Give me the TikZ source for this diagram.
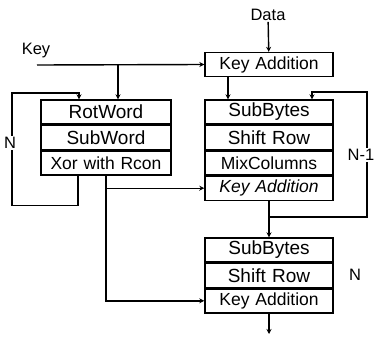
\documentclass[tikz,border=0pt]{standalone}
\usepackage{fontspec}
\setmainfont{Liberation Sans}
\usepackage{tikz}
\usetikzlibrary{positioning,arrows.meta}
\tikzset{
  row/.style={draw=black, line width=1.4pt, align=center, minimum height=24pt, text width=#1, inner sep=0pt, font=\fontsize{19}{20}\selectfont},
  row/.default={128pt},
  smallrow/.style={row=#1, font=\fontsize{17.5}{18}\selectfont},
  smallrow/.default={128pt},
  arrow/.style={-{Stealth[length=5pt,width=5pt]}, line width=1.4pt, draw=black},
  lbl/.style={font=\fontsize{16.5}{17}\selectfont, inner sep=1pt},
  looplbl/.style={lbl, fill=white, inner sep=1.5pt}
}
\begin{document}
\begin{tikzpicture}[x=1pt, y=-1pt, node distance=0pt]
  \useasboundingbox (0,0) rectangle (377,337);
  % inputs
  \node[lbl] (data) at (268,15) {Data};
  \node[lbl] (key) at (36,51) {Key};
  \node[smallrow] (ka0) at (269,64.5) {Key Addition};
  % key schedule
  \node[row=130pt] (rot) at (106,112) {RotWord};
  \node[row=130pt, below=of rot] (subw) {SubWord};
  \node[smallrow=130pt, below=of subw] (xor) {Xor with Rcon};
  % rounds
  \node[row] (sb1) at (269,112) {SubBytes};
  \node[row, below=of sb1] (sr1) {Shift Row};
  \node[smallrow, below=of sr1] (mc1) {MixColumns};
  \node[smallrow, below=of mc1, font=\fontsize{17.5}{18}\selectfont\itshape] (ka1) {Key Addition};
  % final round
  \node[row] (sb2) at (269,250) {SubBytes};
  \node[row, below=of sb2] (sr2) {Shift Row};
  \node[smallrow, below=of sr2] (ka2) {Key Addition};
  \coordinate (keyin) at (37,65);
  \coordinate (kbr) at (118,65);
  \coordinate (out) at (269,334);
  % connectors
  \draw[arrow] (data) -- (ka0);
  \draw[arrow] (keyin) -- (ka0.west);
  \draw[arrow] (kbr) -- (kbr |- rot.north);
  \draw[arrow] ([xshift=-41pt]ka0.south) -- ([xshift=-41pt]sb1.north);
  \draw[arrow] ([xshift=-28pt]xor.south) -- ++(0,30) -| (12,93) -| ([xshift=-27pt]rot.north);
  \node[looplbl] at (10,143) {N};
  \draw[arrow] (ka1.south) -- (sb2.north);
  \draw[arrow] (ka1.south) ++(0,16) -| (367,92) -| ([xshift=43pt]sb1.north);
  \node[looplbl] at (361,155) {N-1};
  \draw[arrow] (xor.south) |- (ka1.west);
  \draw[arrow] (xor.south) |- (ka2.west);
  \draw[arrow] (ka2.south) -- (out);
  \node[lbl] at (355,275) {N};
\end{tikzpicture}
\end{document}
